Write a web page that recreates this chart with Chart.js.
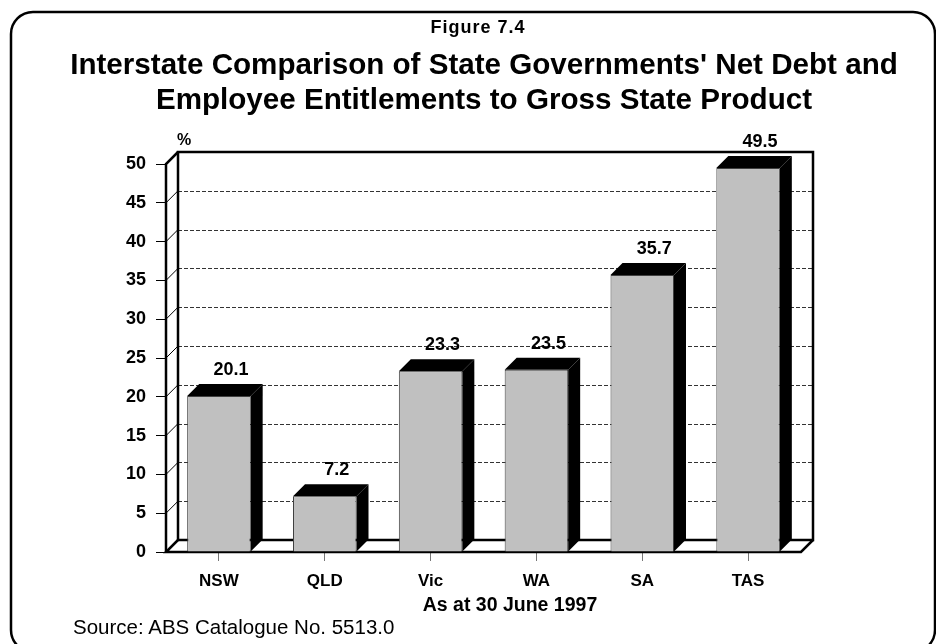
<!DOCTYPE html>
<html>
<head>
<meta charset="utf-8">
<title>Figure 7.4</title>
<script src="https://cdn.jsdelivr.net/npm/chart.js@4/dist/chart.umd.min.js"></script>
<style>
  html, body { margin: 0; padding: 0; background: #fff; }
  #page { position: relative; width: 936px; height: 644px; overflow: hidden;
          font-family: 'Liberation Sans', Arial, Helvetica, sans-serif; color: #000; }
  #chart { position: absolute; left: 0; top: 0; }
  .txt { position: absolute; white-space: nowrap; }
  #fig { left: 278px; width: 400px; top: 17px; text-align: center; font-weight: bold; font-size: 18px; letter-spacing: 1px; }
  #title { left: 34px; width: 900px; top: 46px; text-align: center; font-weight: bold; font-size: 29.6px; line-height: 35px; }
  #xtitle { left: 310px; width: 400px; top: 593px; text-align: center; font-weight: bold; font-size: 19.5px; }
  #source { left: 73px; top: 615px; font-size: 20.5px; }
</style>
</head>
<body>
<div id="page">
  <canvas id="chart" width="936" height="644"></canvas>
  <div id="fig" class="txt">Figure 7.4</div>
  <div id="title" class="txt">Interstate Comparison of State Governments' Net Debt and<br>Employee Entitlements to Gross State Product</div>
  <div id="xtitle" class="txt"></div>
  <div id="source" class="txt">Source: ABS Catalogue No. 5513.0</div>
</div>
<script>
// Net debt and employee entitlements as a share of gross state product, 30 June 1997
const states = ['NSW', 'QLD', 'Vic', 'WA', 'SA', 'TAS'];
const debtToGsp = [20.1, 7.2, 23.3, 23.5, 35.7, 49.5];
const yMin = 0;
const yMax = 50;
const yStep = 5;
const xTitle = 'As at 30 June 1997';
const yUnit = '%';

document.getElementById('xtitle').textContent = xTitle;

const FONT = "'Liberation Sans', Arial, Helvetica, sans-serif";
const DEPTH = 12;          // oblique offset of the 3-D box
const FACE = '#c0c0c0';

// rounded frame around the whole figure
const framePlugin = {
  id: 'frame',
  beforeDraw(chart) {
    const ctx = chart.ctx;
    const x0 = 11, y0 = 12, x1 = 935, y1 = 652, r = 22;
    ctx.save();
    ctx.fillStyle = '#fff';
    ctx.fillRect(0, 0, chart.width, chart.height);
    ctx.strokeStyle = '#000';
    ctx.lineWidth = 2.5;
    ctx.beginPath();
    ctx.moveTo(x0 + r, y0);
    ctx.lineTo(x1 - r, y0);
    ctx.arcTo(x1, y0, x1, y0 + r, r);
    ctx.lineTo(x1, y1 - r);
    ctx.arcTo(x1, y1, x1 - r, y1, r);
    ctx.lineTo(x0 + r, y1);
    ctx.arcTo(x0, y1, x0, y1 - r, r);
    ctx.lineTo(x0, y0 + r);
    ctx.arcTo(x0, y0, x0 + r, y0, r);
    ctx.closePath();
    ctx.stroke();
    ctx.restore();
  }
};

// walls, floor, back-wall gridlines, bar tops/sides and value labels
const boxPlugin = {
  id: 'box3d',
  beforeDatasetsDraw(chart) {
    const { ctx, chartArea: a, scales: { y } } = chart;
    const L = a.left, R = a.right;
    const T = y.getPixelForValue(yMax), B = y.getPixelForValue(yMin);
    ctx.save();
    ctx.strokeStyle = '#333';
    ctx.lineWidth = 1;
    ctx.setLineDash([4, 2]);
    y.ticks.forEach(t => {
      if (t.value <= yMin || t.value >= yMax) return;
      const py = Math.round(y.getPixelForValue(t.value) - DEPTH) + 0.5;
      ctx.beginPath();
      ctx.moveTo(L + DEPTH, py);
      ctx.lineTo(R + DEPTH, py);
      ctx.stroke();
    });
    ctx.setLineDash([]);
    ctx.strokeStyle = '#000';
    y.ticks.forEach(t => {
      if (t.value <= yMin || t.value >= yMax) return;
      const py = y.getPixelForValue(t.value);
      ctx.beginPath();
      ctx.moveTo(L, py);
      ctx.lineTo(L + DEPTH, py - DEPTH);
      ctx.stroke();
    });
    ctx.lineWidth = 2.5;
    ctx.lineJoin = 'miter';
    // back wall
    ctx.beginPath();
    ctx.moveTo(L + DEPTH, B - DEPTH);
    ctx.lineTo(L + DEPTH, T - DEPTH);
    ctx.lineTo(R + DEPTH, T - DEPTH);
    ctx.lineTo(R + DEPTH, B - DEPTH);
    ctx.lineTo(L + DEPTH, B - DEPTH);
    ctx.stroke();
    // side wall
    ctx.beginPath();
    ctx.moveTo(L, B);
    ctx.lineTo(L, T);
    ctx.lineTo(L + DEPTH, T - DEPTH);
    ctx.stroke();
    // floor
    ctx.beginPath();
    ctx.moveTo(L + DEPTH, B - DEPTH);
    ctx.lineTo(L, B);
    ctx.lineTo(R, B);
    ctx.lineTo(R + DEPTH, B - DEPTH);
    ctx.stroke();
    // unit label above the axis
    ctx.fillStyle = '#000';
    ctx.font = 'bold 16px ' + FONT;
    ctx.textAlign = 'center';
    ctx.textBaseline = 'middle';
    ctx.fillText(yUnit, L + DEPTH + 6, T - DEPTH - 11);
    ctx.restore();
  },
  afterDatasetsDraw(chart) {
    const ctx = chart.ctx;
    const meta = chart.getDatasetMeta(0);
    const values = chart.data.datasets[0].data;
    ctx.save();
    meta.data.forEach((bar, i) => {
      const { x, y: top, base, width } = bar.getProps(['x', 'y', 'base', 'width'], true);
      const l = x - width / 2, r = x + width / 2;
      ctx.fillStyle = '#000';
      // top face
      ctx.beginPath();
      ctx.moveTo(l, top);
      ctx.lineTo(l + DEPTH, top - DEPTH);
      ctx.lineTo(r + DEPTH, top - DEPTH);
      ctx.lineTo(r, top);
      ctx.closePath();
      ctx.fill();
      // side face
      ctx.beginPath();
      ctx.moveTo(r, top);
      ctx.lineTo(r + DEPTH, top - DEPTH);
      ctx.lineTo(r + DEPTH, base - DEPTH);
      ctx.lineTo(r, base);
      ctx.closePath();
      ctx.fill();
      // value
      ctx.font = 'bold 18px ' + FONT;
      ctx.textAlign = 'center';
      ctx.textBaseline = 'middle';
      ctx.fillText(values[i].toFixed(1), x + DEPTH, top - DEPTH - 14);
    });
    ctx.restore();
  }
};

new Chart(document.getElementById('chart'), {
  type: 'bar',
  data: {
    labels: states,
    datasets: [{
      data: debtToGsp,
      backgroundColor: FACE,
      borderColor: '#404040',
      borderWidth: 1,
      borderSkipped: 'start',
      categoryPercentage: 1,
      barPercentage: 0.6
    }]
  },
  options: {
    responsive: false,
    animation: false,
    layout: { padding: { left: 0, top: 164, right: 135, bottom: 0 } },
    plugins: { legend: { display: false }, tooltip: { enabled: false }, title: { display: false } },
    scales: {
      x: {
        afterFit(s) { s.height = 92; },
        border: { display: false },
        grid: { display: true, offset: false, drawOnChartArea: false, drawTicks: true, tickLength: 9, color: '#777', lineWidth: 1 },
        ticks: { color: '#000', padding: 10, font: { family: FONT, size: 17, weight: 'bold' } }
      },
      y: {
        min: yMin,
        max: yMax,
        afterFit(s) { s.width = 166; },
        border: { display: false },
        grid: { display: true, drawOnChartArea: false, drawTicks: true, tickLength: 10, color: '#000', lineWidth: 1 },
        ticks: { stepSize: yStep, color: '#000', padding: 10, font: { family: FONT, size: 18, weight: 'bold' } }
      }
    }
  },
  plugins: [framePlugin, boxPlugin]
});
</script>
</body>
</html>
